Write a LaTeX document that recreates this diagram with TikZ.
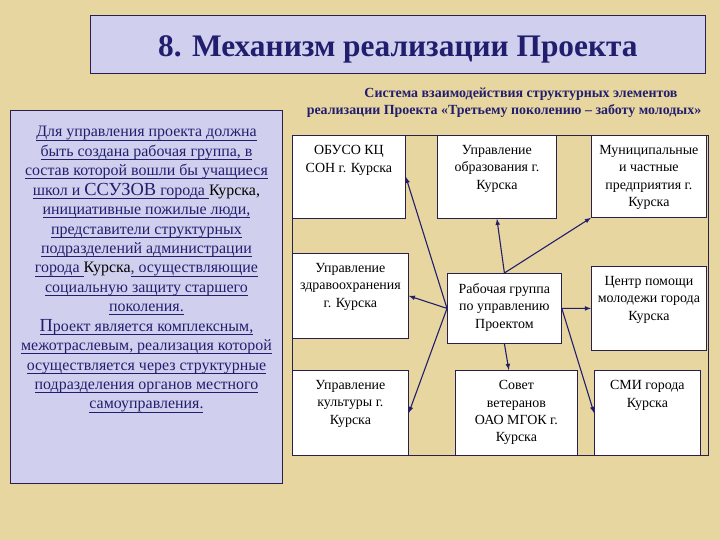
\documentclass[tikz,border=0pt]{standalone}
\usepackage{fontspec}
\setmainfont{Liberation Serif}
\definecolor{parch}{RGB}{232,214,160}
\definecolor{lav}{RGB}{208,208,238}
\definecolor{navy}{RGB}{34,30,110}
\definecolor{edge}{RGB}{40,32,80}
\newsavebox{\lnkbox}
\newcommand{\celltext}[3]{\parbox[t][#2][t]{#1}{\centering #3}}
\newcommand{\lnk}[1]{\leavevmode\sbox{\lnkbox}{#1}\rlap{\rule[-3.5bp]{\wd\lnkbox}{0.8bp}}\usebox{\lnkbox}}
\newcommand{\bigger}{\fontsize{18.5}{19.5}\selectfont}

\begin{document}
\begin{tikzpicture}[x=1bp, y=-1bp,
      cell/.style={draw=edge, fill=white, line width=0.8bp, anchor=north west,
        inner xsep=1bp, inner ysep=10bp, font=\fontsize{14}{17.5}\selectfont},
      panel/.style={draw=edge, fill=lav, line width=0.9bp, anchor=north west, inner sep=0pt},
      link/.style={draw=navy, line width=1.1bp, -latex}]
    \fill[parch] (0,0) rectangle (720,540);
    \useasboundingbox (0,0) rectangle (720,540);
    \node[panel, minimum width=615bp, minimum height=58bp] (head) at (90,15) {};
    \node[navy, font=\fontsize{31.5}{36}\selectfont\bfseries] (title) at ([yshift=-5bp]head.center) {8. Механизм реализации Проекта};
    \node[navy, align=center, font=\fontsize{14}{17}\selectfont\bfseries] (sub) at (504,103)
        {\hspace*{34bp}Система взаимодействия структурных элементов\\
         реализации Проекта «Третьему поколению – заботу молодых»};
    \node[panel, inner xsep=2bp, inner ysep=16bp, text=navy, font=\fontsize{16}{19.5}\selectfont] (note) at (10,110)
        {\celltext{268bp}{341bp}{%
          \lnk{Для управления  проекта должна}\\
          \lnk{быть создана рабочая группа, в}\\
          \lnk{состав которой вошли бы учащиеся}\\
          \lnk{школ и {\bigger ССУЗОВ} города }{\color{black}Курска,}\\
          \lnk{инициативные пожилые люди,}\\
          \lnk{представители структурных}\\
          \lnk{подразделений администрации}\\
          \lnk{города }{\color{black}Курска}\lnk{, осуществляющие}\\
          \lnk{социальную защиту старшего}\\
          \lnk{поколения.}\\
          \lnk{{\bigger П}роект является комплексным,}\\
          \lnk{межотраслевым, реализация которой}\\
          \lnk{осуществляется  через  структурные}\\
          \lnk{подразделения  органов  местного}\\
          \lnk{самоуправления.}}};
    \draw[edge, line width=0.8bp] (292,135) rectangle (708,455);
    \node[cell] (obuso) at (292,135) {\celltext{111bp}{63bp}{ОБУСО КЦ\\СОН г. Курска}};
    \node[cell] (obraz) at (437,135) {\celltext{117bp}{63bp}{Управление\\образования г.\\Курска}};
    \node[cell] (munic) at (591,135) {\celltext{113bp}{62bp}{Муниципальные\\и частные\\предприятия г.\\Курска}};
    \node[cell] (zdrav) at (292,253) {\celltext{114bp}{65bp}{Управление\\здравоохранения\\г. Курска}};
    \node[cell] (rabgr) at (447,273) {\celltext{112bp}{50bp}{Рабочая группа\\по управлению\\Проектом}};
    \node[cell] (centr) at (591,266) {\celltext{113bp}{64bp}{Центр помощи\\молодежи города\\Курска}};
    \node[cell] (kult) at (292,370) {\celltext{114bp}{65bp}{Управление\\культуры г.\\Курска}};
    \node[cell] (sovet) at (455,370) {\celltext{120bp}{65bp}{Совет\\ветеранов\\ОАО МГОК г.\\Курска}};
    \node[cell] (smi) at (594,370) {\celltext{104bp}{65bp}{СМИ города\\Курска}};
    \draw[link] (rabgr.west) -- (obuso.east);
    \draw[link] (rabgr.west) -- (zdrav.east);
    \draw[link] (rabgr.west) -- (kult.east);
    \draw[link] (rabgr.north) -- (obraz.south);
    \draw[link] (rabgr.north) -- (munic.south west);
    \draw[link] (rabgr.east) -- (centr.west);
    \draw[link] (rabgr.east) -- (smi.west);
    \draw[link] (rabgr.south) -- (sovet.100);
\end{tikzpicture}
\end{document}
